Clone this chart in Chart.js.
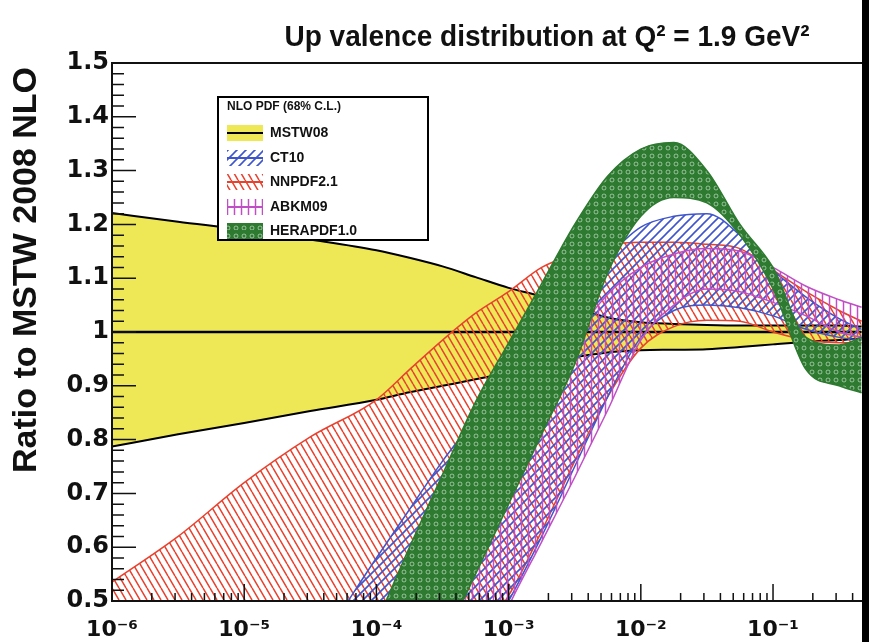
<!DOCTYPE html>
<html>
<head>
<meta charset="utf-8">
<script src="https://cdn.jsdelivr.net/npm/chart.js@4.4.1/dist/chart.umd.min.js"></script>
<style>
  html, body { margin: 0; padding: 0; background: #fff; }
  #wrap { width: 869px; height: 642px; position: relative; }
</style>
</head>
<body>
<div id="wrap"><canvas id="myChart" width="869" height="642"></canvas></div>
<script>
// sample points, as log10(x)
const logx = [-6, -5.5, -5, -4.5, -4, -3.75, -3.5, -3.25, -3, -2.75, -2.5, -2.25, -2, -1.75, -1.5, -1.25, -1, -0.75, -0.5, -0.33]

// ratio bands (upper / lower edge)
const mstwUp = [1.221, 1.205, 1.19, 1.172, 1.152, 1.138, 1.122, 1.102, 1.082, 1.066, 1.045, 1.027, 1.018, 1.015, 1.013, 1.012, 1.012, 1.012, 1.012, 1.01]
const mstwLo = [0.787, 0.81, 0.831, 0.853, 0.874, 0.888, 0.9, 0.912, 0.925, 0.94, 0.953, 0.962, 0.966, 0.967, 0.968, 0.972, 0.977, 0.982, 0.985, 0.988]
const mstwMid = [1, 1, 1, 1, 1, 1, 1, 1, 1, 1, 1, 1, 1, 1, 1, 1, 1, 1, 1, 1]
const nnpdfUp = [0.535, 0.62, 0.72, 0.805, 0.874, 0.93, 0.985, 1.035, 1.075, 1.12, 1.145, 1.162, 1.167, 1.167, 1.163, 1.155, 1.115, 1.075, 1.04, 1.02]
const nnpdfLo = [0.1, 0.15, 0.2, 0.25, 0.3, 0.33, 0.37, 0.43, 0.51, 0.63, 0.76, 0.88, 0.97, 1.01, 1.022, 1.02, 1.0, 0.985, 0.98, 0.98]
const ct10Up = [0.1, 0.18, 0.28, 0.4, 0.58, 0.67, 0.76, 0.84, 0.92, 0.995, 1.07, 1.14, 1.195, 1.215, 1.22, 1.18, 1.115, 1.065, 1.025, 1.005]
const ct10Lo = [0.0, 0.05, 0.1, 0.15, 0.2, 0.25, 0.3, 0.4, 0.5, 0.62, 0.75, 0.88, 0.99, 1.04, 1.05, 1.045, 1.03, 1.005, 0.99, 0.985]
const abkmUp = [0.0, 0.05, 0.1, 0.2, 0.3, 0.38, 0.45, 0.6, 0.75, 0.88, 0.99, 1.07, 1.12, 1.145, 1.155, 1.15, 1.12, 1.085, 1.06, 1.046]
const abkmLo = [0.0, 0.02, 0.05, 0.1, 0.15, 0.2, 0.25, 0.35, 0.49, 0.61, 0.73, 0.855, 0.985, 1.05, 1.08, 1.075, 1.055, 1.03, 1.0, 0.99]
const heraUp = [0.0, 0.02, 0.05, 0.2, 0.46, 0.6, 0.735, 0.87, 0.98, 1.09, 1.2, 1.29, 1.34, 1.352, 1.3, 1.2, 1.12, 0.99, 0.976, 0.99]
const heraLo = [0.0, 0.0, 0.0, 0.05, 0.15, 0.3, 0.42, 0.55, 0.68, 0.81, 0.94, 1.11, 1.215, 1.25, 1.24, 1.18, 1.08, 0.93, 0.9, 0.887]

const xTicks = [-6, -5, -4, -3, -2, -1]
const legendNames = ['MSTW08', 'CT10', 'NNPDF2.1', 'ABKM09', 'HERAPDF1.0']

const ctx = document.getElementById('myChart')
const g = ctx.getContext('2d')

function tile(w, h, draw) {
  const c = document.createElement('canvas')
  c.width = w
  c.height = h
  draw(c.getContext('2d'))
  return g.createPattern(c, 'repeat')
}

const YELLOW = '#eee856'
const BLUE = '#3f55cc'
const RED = '#e8412e'
const MAGENTA = '#c04fc6'
const GREEN = '#2e7a30'

const bluePat = tile(9, 9, c => {
  c.strokeStyle = BLUE
  c.lineWidth = 1.6
  c.beginPath()
  c.moveTo(0, 9); c.lineTo(9, 0)
  c.moveTo(-3, 3); c.lineTo(3, -3)
  c.moveTo(6, 12); c.lineTo(12, 6)
  c.stroke()
})
const redPat = tile(7, 12, c => {
  c.strokeStyle = RED
  c.lineWidth = 1.5
  c.beginPath()
  for (const dx of [-7, 0, 7]) { c.moveTo(dx, 0); c.lineTo(dx + 7, 12) }
  c.stroke()
})
const magPat = tile(7, 7, c => {
  c.strokeStyle = MAGENTA
  c.lineWidth = 1.5
  c.beginPath()
  c.moveTo(3.5, 0); c.lineTo(3.5, 7)
  c.stroke()
})
const greenPat = tile(8, 8, c => {
  c.fillStyle = GREEN
  c.fillRect(0, 0, 8, 8)
  c.strokeStyle = 'rgba(220,240,220,0.75)'
  c.lineWidth = 0.8
  c.beginPath()
  c.arc(4, 4, 2, 0, Math.PI * 2)
  c.stroke()
})

const xs = logx.map(l => Math.pow(10, l))
const pts = vals => vals.map((v, i) => ({ x: xs[i], y: v }))

function edge(data, color, order, width, fill, bg) {
  return {
    data: pts(data),
    borderColor: color,
    borderWidth: width,
    backgroundColor: bg || 'transparent',
    fill: fill === undefined ? false : fill,
    pointRadius: 0,
    cubicInterpolationMode: 'monotone',
    order: order,
    clip: 0
  }
}

const datasets = [
  edge(mstwLo, '#000', 50, 2),
  edge(mstwUp, '#000', 50, 2, 0, YELLOW),
  edge(mstwMid, '#000', 45, 2.5),
  edge(nnpdfLo, RED, 40, 1.5),
  edge(nnpdfUp, RED, 40, 1.5, 3, redPat),
  edge(ct10Lo, BLUE, 30, 1.5),
  edge(ct10Up, BLUE, 30, 1.5, 5, bluePat),
  edge(abkmLo, MAGENTA, 20, 1.5),
  edge(abkmUp, MAGENTA, 20, 1.5, 7, magPat),
  edge(heraLo, GREEN, 10, 1.5),
  edge(heraUp, GREEN, 10, 1.5, 9, greenPat)
]

const sup = { '-': '\u207B', '0': '\u2070', '1': '\u00B9', '2': '\u00B2', '3': '\u00B3', '4': '\u2074', '5': '\u2075', '6': '\u2076', '7': '\u2077', '8': '\u2078', '9': '\u2079' }
const power = e => '10' + String(e).split('').map(ch => sup[ch]).join('')

const decor = {
  id: 'decor',
  afterDatasetsDraw(chart) {
    const { ctx: c, chartArea: a, scales: { x, y } } = chart
    c.save()
    c.strokeStyle = '#111'
    c.lineWidth = 1.5
    c.beginPath()
    for (let v = 50; v <= 150; v += 2) {
      const py = y.getPixelForValue(v / 100)
      const len = v % 10 === 0 ? 24 : 12
      c.moveTo(a.left, py)
      c.lineTo(a.left + len, py)
    }
    for (let e = -6; e <= 0; e++) {
      for (let m = 1; m <= 9; m++) {
        const v = m * Math.pow(10, e)
        if (v > x.max) break
        const px = x.getPixelForValue(v)
        const len = m === 1 ? 17 : 8
        c.moveTo(px, a.bottom)
        c.lineTo(px, a.bottom - len)
      }
    }
    c.stroke()

    // frame
    c.lineWidth = 2
    c.beginPath()
    c.moveTo(a.right, a.top)
    c.lineTo(a.left, a.top)
    c.lineTo(a.left, a.bottom)
    c.lineTo(a.right, a.bottom)
    c.stroke()

    // legend box
    const bx = 218, by = 97, bw = 210, bh = 143
    c.fillStyle = '#fff'
    c.fillRect(bx, by, bw, bh)
    c.lineWidth = 2
    c.strokeStyle = '#000'
    c.strokeRect(bx, by, bw, bh)
    c.fillStyle = '#111'
    c.textBaseline = 'middle'
    c.textAlign = 'left'
    c.font = 'bold 12px "Liberation Sans", sans-serif'
    c.fillText('NLO PDF (68% C.L.)', 227, 107, 140)
    const fills = [YELLOW, bluePat, redPat, magPat, greenPat]
    const lines = ['#000', BLUE, RED, MAGENTA, GREEN]
    const rows = [133, 158, 182, 207, 231]
    c.font = 'bold 14px "Liberation Sans", sans-serif'
    legendNames.forEach((name, i) => {
      const ry = rows[i]
      c.fillStyle = fills[i]
      c.fillRect(227, ry - 8, 36, 16)
      c.strokeStyle = lines[i]
      c.lineWidth = 2
      c.beginPath()
      c.moveTo(227, ry)
      c.lineTo(263, ry)
      c.stroke()
      c.fillStyle = '#111'
      c.fillText(name, 270, ry)
    })
    c.restore()
  },
  afterDraw(chart) {
    const c = chart.ctx
    c.save()
    c.fillStyle = '#111'
    c.textAlign = 'center'
    c.textBaseline = 'alphabetic'
    c.font = 'bold 30px "Liberation Sans Narrow", "Liberation Sans", sans-serif'
    c.fillText('Up valence distribution at Q\u00B2 = 1.9 GeV\u00B2', 547, 46, 525)
    c.translate(27, 270)
    c.rotate(-Math.PI / 2)
    c.textBaseline = 'middle'
    c.font = 'bold 34px "Liberation Sans", sans-serif'
    c.fillText('Ratio to MSTW 2008 NLO', 0, 0, 416)
    c.restore()
    c.fillStyle = '#000'
    c.fillRect(862, 0, 7, 642)
  }
}

new Chart(ctx, {
  type: 'line',
  data: { datasets: datasets },
  plugins: [decor],
  options: {
    responsive: false,
    animation: false,
    devicePixelRatio: 1,
    layout: { padding: { top: 63, right: 7, left: 0, bottom: 0 } },
    plugins: {
      legend: { display: false },
      tooltip: { enabled: false },
      title: { display: false }
    },
    scales: {
      x: {
        type: 'logarithmic',
        min: 1e-6,
        max: Math.pow(10, -0.327),
        grid: { display: false, drawTicks: false },
        border: { display: false },
        afterBuildTicks: scale => {
          scale.ticks = xTicks.map(e => ({ value: Math.pow(10, e) }))
        },
        afterFit: scale => { scale.height = 41 },
        ticks: {
          autoSkip: false,
          maxRotation: 0,
          padding: 16,
          color: '#111',
          font: { family: 'DejaVu Sans', weight: 'bold', size: 22 },
          callback: v => power(Math.round(Math.log10(v)))
        }
      },
      y: {
        min: 0.5,
        max: 1.5,
        grid: { display: false, drawTicks: false },
        border: { display: false },
        afterFit: scale => { scale.width = 112 },
        ticks: {
          stepSize: 0.1,
          padding: 3,
          color: '#111',
          font: { family: 'DejaVu Sans', weight: 'bold', size: 24 },
          callback: v => String(Number(v.toFixed(1)))
        }
      }
    }
  }
})
</script>
</body>
</html>
